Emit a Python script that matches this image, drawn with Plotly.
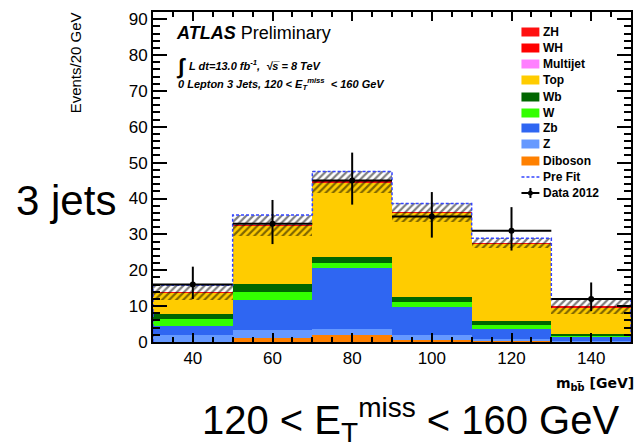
import plotly.graph_objects as go

# ---------------- data ----------------
bins = [40, 60, 80, 100, 120, 140]          # bin centres (GeV), bin width 20
bin_width = 20
diboson = [0.1, 1.1, 1.9, 0.5, 0.3, 0.1]
z_light = [1.8, 2.2, 1.8, 1.4, 0.5, 0.2]
zb = [2.5, 8.3, 16.8, 7.9, 2.9, 1.1]
w_light = [2.1, 2.4, 1.4, 1.4, 1.0, 0.5]
wb = [1.4, 2.3, 1.8, 1.4, 1.1, 0.4]
top = [5.8, 16.1, 20.8, 23.4, 21.6, 7.4]
multijet = [0.03, 0.03, 0.03, 0.03, 0.03, 0.02]
wh = [0.03, 0.03, 0.05, 0.06, 0.03, 0.02]
zh = [0.03, 0.03, 0.05, 0.06, 0.03, 0.02]
syst_unc = [2.1, 3.0, 3.0, 2.6, 1.4, 2.0]
pre_fit = [15.8, 35.4, 47.5, 38.6, 28.9, 11.9]
data_2012 = [16, 33, 45, 35, 31, 12]
data_err_up = [5.0, 6.6, 7.8, 6.8, 6.6, 4.6]
data_err_down = [4.0, 5.7, 6.7, 5.9, 5.5, 3.4]
bin_edges = [30, 50, 70, 90, 110, 130, 150]

# stacking order bottom -> top
components = [
    ("Diboson", diboson, "#ff8000"),
    ("Z", z_light, "#6699ff"),
    ("Zb", zb, "#2f66f2"),
    ("W", w_light, "#33ff00"),
    ("Wb", wb, "#006600"),
    ("Top", top, "#ffcc00"),
    ("Multijet", multijet, "#ff80ff"),
    ("WH", wh, "#ff0000"),
    ("ZH", zh, "#ff1010"),
]
legend_labels = ["ZH", "WH", "Multijet", "Top", "Wb", "W", "Zb", "Z", "Diboson", "Pre Fit", "Data 2012"]

FONT = "Liberation Sans, Arial, Helvetica, sans-serif"

fig = go.Figure()

base = [0.0] * len(bins)
for name, vals, col in components:
    fig.add_trace(go.Bar(x=bins, y=vals, base=list(base), width=bin_width, name=name,
                         marker=dict(color=col, line=dict(width=0)), showlegend=False))
    base = [b + v for b, v in zip(base, vals)]
total = base

# uncertainty hatch band
fig.add_trace(go.Bar(
    x=bins, y=[2 * u for u in syst_unc], base=[t - u for t, u in zip(total, syst_unc)],
    width=bin_width, showlegend=False,
    marker=dict(color="rgba(0,0,0,0)", line=dict(width=0),
                pattern=dict(shape="/", fgcolor="black", bgcolor="rgba(0,0,0,0)",
                             size=5, solidity=0.45, fillmode="overlay"))))

# pre-fit dashed outline
fig.add_trace(go.Scatter(
    x=[bin_edges[0]] + bin_edges, y=[0] + pre_fit + [pre_fit[-1]],
    mode="lines", line=dict(shape="hv", color="#3344ff", dash="3px,2px", width=1.5),
    showlegend=False))
fig.add_trace(go.Scatter(
    x=[bin_edges[-1], bin_edges[-1]], y=[pre_fit[-1], 0],
    mode="lines", line=dict(color="#3344ff", dash="3px,2px", width=1.5), showlegend=False))

# data
fig.add_trace(go.Scatter(
    x=bins, y=data_2012, mode="markers", showlegend=False,
    marker=dict(color="black", size=6),
    error_y=dict(type="data", array=data_err_up, arrayminus=data_err_down,
                 width=0, thickness=2, color="black"),
    error_x=dict(type="data", array=[bin_width / 2] * len(bins), width=0, thickness=2, color="black")))

# ---------------- layout ----------------
L, R, T, B = 153, 10, 12, 106
W, H = 643, 448
PW, PH = W - L - R, H - T - B


def px(x):
    return (x - L) / PW


def py(y):
    return (H - B - y) / PH


annotations = []
shapes = []


def ann(text, x, y, size, xanchor="left", yanchor="middle", angle=0, family=FONT, **kw):
    annotations.append(dict(text=text, x=px(x), y=py(y), xref="paper", yref="paper",
                            xanchor=xanchor, yanchor=yanchor, showarrow=False,
                            textangle=angle, font=dict(size=size, color="black", family=family), **kw))


ann("<b><i>ATLAS</i></b> Preliminary", 174, 33, 18)
ann("<b><i>∫</i></b>", 174, 66, 22)
ann("<b><i>L dt=13.0 fb<sup>-1</sup>,  √s\u0305 = 8 TeV</i></b>", 187, 65, 11)
ann("<b><i>0 Lepton 3 Jets, 120 &lt; E<sub>T</sub><sup>miss</sup>  &lt; 160 GeV</i></b>", 176, 84, 11)
ann("Events/20 GeV", 75, 63, 15, xanchor="center", angle=-90)
ann("3 jets", 66, 200, 42, xanchor="center")
ann("120 &lt; E<sub>T</sub><sup>miss</sup> &lt; 160 GeV", 412, 420, 40, xanchor="center")
ann("<b>m<sub>bb\u0305</sub> [GeV]</b>", 638, 384, 14, xanchor="right",
    family="DejaVu Sans, Liberation Sans, sans-serif")

# manual legend
leg_y = [32, 48, 64, 80, 97, 113, 128, 144, 161, 177, 193]
colors = {n: c for n, _, c in components}
for lab, yc in zip(legend_labels, leg_y):
    if lab in colors:
        shapes.append(dict(type="rect", xref="paper", yref="paper",
                           x0=px(523), x1=px(541), y0=py(yc - 4.5), y1=py(yc + 4.5),
                           fillcolor=colors[lab], line=dict(width=0)))
    elif lab == "Pre Fit":
        shapes.append(dict(type="line", xref="paper", yref="paper",
                           x0=px(523), x1=px(541), y0=py(yc), y1=py(yc),
                           line=dict(color="#3344ff", dash="3px,2px", width=1.5)))
    else:
        shapes.append(dict(type="line", xref="paper", yref="paper",
                           x0=px(523), x1=px(541), y0=py(yc), y1=py(yc),
                           line=dict(color="black", width=2)))
        shapes.append(dict(type="line", xref="paper", yref="paper",
                           x0=px(532), x1=px(532), y0=py(yc - 5), y1=py(yc + 5),
                           line=dict(color="black", width=2)))
        shapes.append(dict(type="circle", xref="paper", yref="paper",
                           x0=px(529.5), x1=px(534.5), y0=py(yc - 2.5), y1=py(yc + 2.5),
                           fillcolor="black", line=dict(width=0)))
    ann("<b>" + lab + "</b>", 543, yc, 12)

axis_common = dict(showline=True, linecolor="black", linewidth=2, mirror="allticks",
                   ticks="inside", tickcolor="black", showgrid=False, zeroline=False,
                   tickfont=dict(size=17, color="black", family=FONT))

fig.update_layout(
    width=W, height=H,
    margin=dict(l=L, r=R, t=T, b=B, pad=0),
    paper_bgcolor="white", plot_bgcolor="white",
    barmode="overlay", bargap=0,
    font=dict(family=FONT, color="black"),
    showlegend=False,
    xaxis=dict(range=[30, 150], dtick=20, tick0=0, ticklen=9, tickwidth=1.5,
               minor=dict(dtick=5, ticks="inside", ticklen=5, tickcolor="black", tickwidth=1.5, showgrid=False),
               **axis_common),
    yaxis=dict(range=[0, 92], dtick=10, tick0=0, ticklen=14, tickwidth=1.5,
               minor=dict(dtick=2, ticks="inside", ticklen=7, tickcolor="black", tickwidth=1.5, showgrid=False),
               **axis_common),
    annotations=annotations,
    shapes=shapes,
)

fig.write_html("out.html")
